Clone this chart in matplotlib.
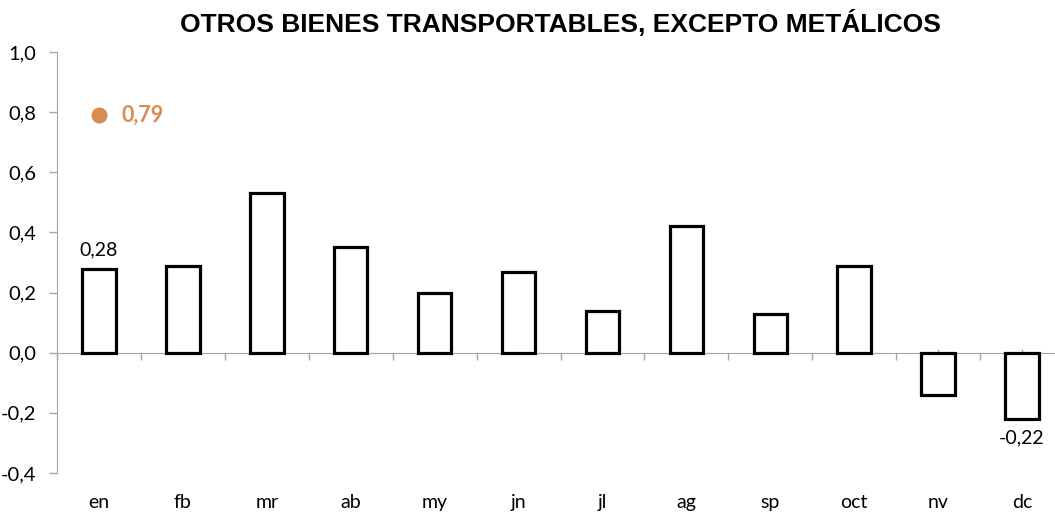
import matplotlib
matplotlib.use('Agg')
import matplotlib.pyplot as plt
import numpy as np

# datos mensuales
meses = ['en', 'fb', 'mr', 'ab', 'my', 'jn', 'jl', 'ag', 'sp', 'oct', 'nv', 'dc']
variacion = [0.28, 0.29, 0.53, 0.35, 0.20, 0.27, 0.14, 0.42, 0.13, 0.29, -0.14, -0.22]
punto_mes = 0
punto_valor = 0.79
yticks = [-0.4, -0.2, 0.0, 0.2, 0.4, 0.6, 0.8, 1.0]

gris = '#a6a6a6'
naranja = '#d98c50'
fuente = 'Lato'

W, H = 1055, 514
fig = plt.figure(figsize=(W / 100, H / 100), dpi=100)
ax = fig.add_axes([57 / W, (H - 473) / H, (1064 - 57) / W, 421 / H])

x = np.arange(len(meses))
ax.bar(x, variacion, width=0.4, facecolor='white', edgecolor='black', linewidth=2.3, zorder=3)

ax.set_xlim(-0.5, len(meses) - 0.5)
ax.set_ylim(-0.4, 1.0)

# eje x en cero, marcas en los limites de categoria
ax.spines['bottom'].set_position(('data', 0))
ax.spines['bottom'].set_color(gris)
ax.spines['left'].set_color(gris)
ax.spines['top'].set_visible(False)
ax.spines['right'].set_visible(False)
ax.set_xticks(np.arange(len(meses) + 1) - 0.5)
ax.set_xticklabels([])
ax.set_xticks(x, minor=True)
ax.tick_params(axis='x', which='major', direction='out', length=5, color=gris, width=1)
ax.tick_params(axis='x', which='minor', direction='in', length=3, color=gris, width=1)

sec = ax.secondary_xaxis(0)
sec.set_xticks(x)
sec.set_xticklabels(meses, fontsize=14, family=fuente)
sec.tick_params(length=0, pad=15)
sec.spines['bottom'].set_visible(False)

ax.set_yticks(yticks)
ax.set_yticklabels([f'{v:.1f}'.replace('.', ',') for v in yticks], fontsize=14.5, family=fuente)
ax.tick_params(axis='y', direction='out', length=6, color=gris, width=1, pad=9)

# etiquetas de datos
ax.text(x[0], variacion[0] + 0.035, f'{variacion[0]:.2f}'.replace('.', ','),
        ha='center', va='bottom', fontsize=14, family=fuente)
ax.text(x[-1], variacion[-1] - 0.035, f'{variacion[-1]:.2f}'.replace('.', ','),
        ha='center', va='top', fontsize=14, family=fuente)

ax.scatter([punto_mes], [punto_valor], s=110, color=naranja, zorder=4)
ax.text(punto_mes + 0.27, punto_valor, f'{punto_valor:.2f}'.replace('.', ','),
        ha='left', va='center', fontsize=15.5, fontweight='bold', color=naranja, family=fuente)

fig.text(560 / W, 1 - 23 / H, 'OTROS BIENES TRANSPORTABLES, EXCEPTO METÁLICOS',
         ha='center', va='center', fontsize=19, fontweight='bold', family='Liberation Sans')

fig.savefig('out.png', dpi=100)
